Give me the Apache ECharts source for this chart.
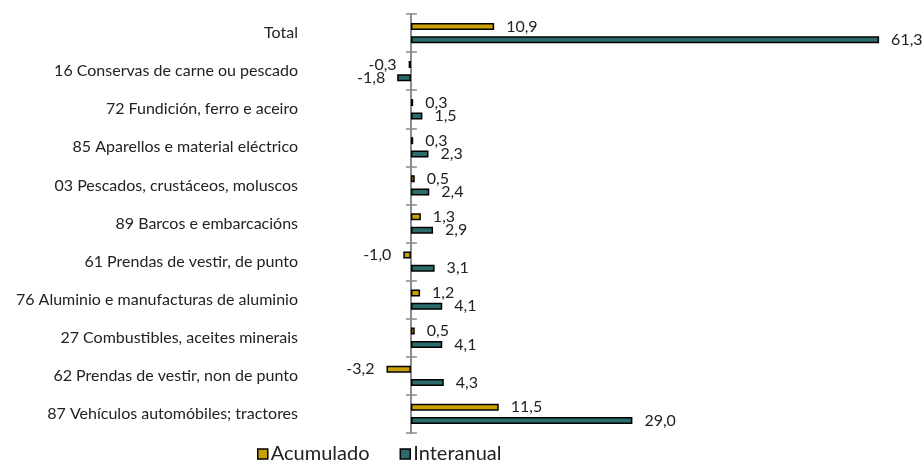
<!DOCTYPE html>
<html><head><meta charset="utf-8">
<script src="https://cdn.jsdelivr.net/npm/echarts@6/dist/echarts.min.js"></script>
<style>html,body{margin:0;padding:0;background:#fff}#c{width:924px;height:462px}</style>
</head><body><div id="c"></div>
<script>
const categories = ["Total","16 Conservas de carne ou pescado","72 Fundición, ferro e aceiro","85 Aparellos e material eléctrico","03 Pescados, crustáceos, moluscos","89 Barcos e embarcacións","61 Prendas de vestir, de punto","76 Aluminio e manufacturas de aluminio","27 Combustibles, aceites minerais","62 Prendas de vestir, non de punto","87 Vehículos automóbiles; tractores"];
const acumulado = [10.9,-0.3,0.3,0.3,0.5,1.3,-1.0,1.2,0.5,-3.2,11.5];
const interanual = [61.3,-1.8,1.5,2.3,2.4,2.9,3.1,4.1,4.1,4.3,29.0];
const seriesNames = ["Acumulado","Interanual"];
const colors = ["#C9A104","#2C6A6C"];
const FONT = "Lato";
function fmt(v){return v.toFixed(1).replace('.', ',');}
function items(arr){
  return arr.map(v=>({value:v,label:{position:v<0?'left':'right'}}));
}
const chart = echarts.init(document.getElementById('c'));
const labelBase = {show:true,distance:12,fontFamily:FONT,fontSize:16,color:'#222',formatter:p=>fmt(p.value)};
const gridBox = {left:304,right:9,top:14,bottom:29,containLabel:false};
const AX = '#8c8c8c';
chart.setOption({
  animation:false,
  textStyle:{fontFamily:FONT},
  grid:[Object.assign({},gridBox),Object.assign({},gridBox)],
  legend:{bottom:-7,left:252,itemWidth:10,itemHeight:10,itemGap:30,
    textStyle:{fontFamily:FONT,fontSize:20,color:'#222',padding:[0,0,0,-2]},
    data:seriesNames.map((n,i)=>({name:n,icon:'rect',itemStyle:{color:colors[i],borderColor:'#000',borderWidth:1.5}}))},
  xAxis:[
    {type:'value',gridIndex:0,min:-14,max:66,show:false},
    {type:'value',gridIndex:1,min:-14,max:66,show:false}
  ],
  yAxis:[
    {type:'category',gridIndex:0,data:categories,inverse:true,position:'left',
     axisLine:{show:false,onZero:false},axisTick:{show:false},
     axisLabel:{margin:6,fontFamily:FONT,fontSize:16,color:'#222'}},
    {type:'category',gridIndex:0,data:categories,inverse:true,position:'right',
     axisLine:{show:true,onZero:true,lineStyle:{color:AX,width:2}},
     axisTick:{show:true,length:6,lineStyle:{color:AX,width:1.5}},
     axisLabel:{show:false}},
    {type:'category',gridIndex:1,data:categories,inverse:true,position:'left',
     axisLine:{show:false,onZero:true},
     axisTick:{show:true,length:5,lineStyle:{color:AX,width:1.5}},
     axisLabel:{show:false}}
  ],
  series:[
    {name:seriesNames[0],type:'bar',xAxisIndex:0,yAxisIndex:0,data:items(acumulado),barWidth:7,barGap:'90%',
     itemStyle:{color:colors[0],borderColor:'#000',borderWidth:1.5},label:labelBase},
    {name:seriesNames[1],type:'bar',xAxisIndex:0,yAxisIndex:0,data:items(interanual),barWidth:7,barGap:'90%',
     itemStyle:{color:colors[1],borderColor:'#000',borderWidth:1.5},label:labelBase}
  ]
});
</script></body></html>
